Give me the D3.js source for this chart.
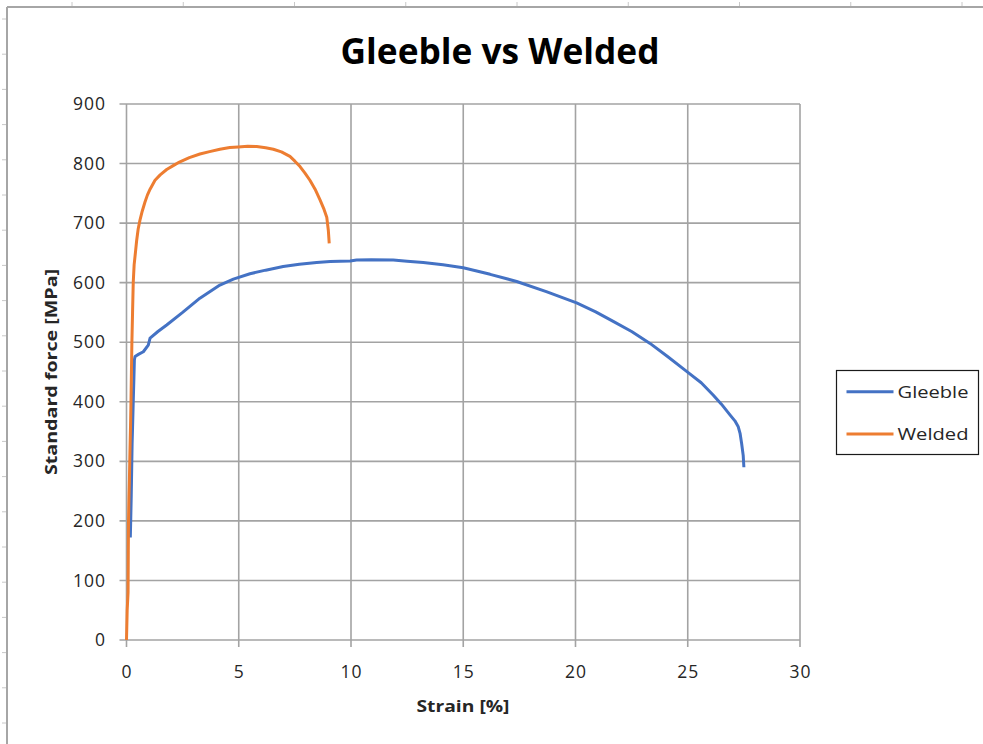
<!DOCTYPE html>
<html>
<head>
<meta charset="utf-8">
<script src="https://cdn.jsdelivr.net/npm/d3@7"></script>
<style>
  html, body { margin: 0; padding: 0; background: #fff; }
  svg { display: block; font-family: "Open Sans", "Noto Sans", sans-serif; }
</style>
</head>
<body>
<svg id="chart" width="983" height="744"></svg>
<script>
// Tensile test curves: strain [%] vs standard force [MPa]
const gleebleStrain = [0.17, 0.19, 0.21, 0.23, 0.25, 0.27, 0.30, 0.33, 0.35, 0.38, 0.55, 0.75, 0.97, 1.05, 1.40, 1.79, 2.50, 3.27, 4.16, 4.76, 5.50, 6.20, 6.98, 7.70, 8.47, 9.07, 9.96, 10.25, 10.90, 11.88, 12.50, 13.22, 14.10, 15.00, 16.20, 17.38, 18.70, 20.05, 20.90, 21.68, 22.50, 23.32, 24.10, 24.95, 25.60, 26.14, 26.50, 26.88, 27.10, 27.25, 27.33, 27.40, 27.47, 27.50];
const gleebleStress = [172, 205, 240, 285, 330, 357, 400, 440, 470, 476, 480, 484, 495, 507, 518, 529, 550, 574, 596, 606, 615, 621, 627, 631, 634, 635.5, 636.5, 638, 638.5, 638, 636, 634, 630, 625, 614, 602, 585, 566, 551, 535, 518, 498, 476, 451, 432, 411, 396, 378, 368, 358, 347, 330, 310, 290];

const weldedStrain = [0.00, 0.03, 0.07, 0.08, 0.09, 0.11, 0.13, 0.15, 0.18, 0.20, 0.22, 0.24, 0.27, 0.30, 0.34, 0.41, 0.45, 0.52, 0.60, 0.70, 0.82, 0.93, 1.05, 1.27, 1.50, 1.79, 2.10, 2.38, 2.80, 3.27, 3.70, 4.16, 4.60, 4.98, 5.40, 5.80, 6.20, 6.54, 6.90, 7.28, 7.50, 7.73, 7.95, 8.17, 8.40, 8.62, 8.80, 8.92, 8.99, 9.03];
const weldedStress = [0, 50, 80, 150, 200, 240, 270, 310, 360, 400, 450, 500, 550, 600, 630, 655, 670, 690, 705, 720, 735, 747, 757, 772, 781, 790, 797, 803, 810, 816, 820, 824, 827, 828, 829, 828.5, 826.5, 824, 819.5, 812, 804, 795, 784, 772, 757, 739, 723, 710, 688, 666];

const seriesNames = ["Gleeble", "Welded"];
const seriesColors = ["#4472C4", "#ED7D31"];

const xTicks = [0, 5, 10, 15, 20, 25, 30];
const yTicks = [0, 100, 200, 300, 400, 500, 600, 700, 800, 900];

const titleText = "Gleeble vs Welded";
const xTitle = "Strain [%]";
const yTitle = "Standard force [MPa]";

const svg = d3.select("#chart");
const W = 983, H = 744;
const plot = { left: 126.5, right: 800, top: 104, bottom: 640 };
const gridColor = "#a3a3a3";

const x = d3.scaleLinear().domain([0, 30]).range([plot.left, plot.right]);
const y = d3.scaleLinear().domain([0, 900]).range([plot.bottom, plot.top]);

// Worksheet frame around the chart object
const frame = svg.append("g");
frame.append("line").attr("x1", 7).attr("x2", W).attr("y1", 7).attr("y2", 7)
  .attr("stroke", "#a6a6a6").attr("stroke-width", 2);
frame.append("line").attr("x1", 7).attr("x2", 7).attr("y1", 7).attr("y2", H)
  .attr("stroke", "#a6a6a6").attr("stroke-width", 2);
frame.selectAll(".colmark").data(d3.range(0, 9)).enter().append("line")
  .attr("x1", d => 72 + d * 111.25).attr("x2", d => 72 + d * 111.25)
  .attr("y1", 2).attr("y2", 6).attr("stroke", "#c8c8c8").attr("stroke-width", 1);
frame.selectAll(".rowmark").data(d3.range(0, 21)).enter().append("line")
  .attr("y1", d => 19 + d * 35.2).attr("y2", d => 19 + d * 35.2)
  .attr("x1", 2).attr("x2", 6).attr("stroke", "#c8c8c8").attr("stroke-width", 1);

// Gridlines
const grid = svg.append("g");
grid.selectAll(".hg").data(yTicks).enter().append("line")
  .attr("x1", plot.left - 7).attr("x2", plot.right)
  .attr("y1", d => y(d)).attr("y2", d => y(d))
  .attr("stroke", gridColor).attr("stroke-width", 1.6);
grid.selectAll(".vg").data(xTicks).enter().append("line")
  .attr("y1", plot.top).attr("y2", plot.bottom + 7)
  .attr("x1", d => x(d)).attr("x2", d => x(d))
  .attr("stroke", gridColor).attr("stroke-width", 1.6);

// Tick labels
svg.append("g").selectAll("text").data(yTicks).enter().append("text")
  .attr("x", 106).attr("y", d => y(d)).attr("dy", "0.35em")
  .attr("text-anchor", "end").attr("font-size", 17.5).attr("letter-spacing", 1)
  .attr("fill", "#262626").text(d => d);
svg.append("g").selectAll("text").data(xTicks).enter().append("text")
  .attr("x", d => x(d) + 0.5).attr("y", 678)
  .attr("text-anchor", "middle").attr("font-size", 17.5).attr("letter-spacing", 1)
  .attr("fill", "#262626").text(d => d);

// Axis titles
svg.append("text").attr("x", 463).attr("y", 712).attr("text-anchor", "middle")
  .attr("font-size", 16).attr("font-weight", "bold").attr("fill", "#262626")
  .attr("textLength", 93).attr("lengthAdjust", "spacingAndGlyphs").text(xTitle);
svg.append("text").attr("transform", "translate(56.5,372) rotate(-90)")
  .attr("text-anchor", "middle").attr("font-size", 16).attr("font-weight", "bold")
  .attr("fill", "#262626").attr("textLength", 206).attr("lengthAdjust", "spacingAndGlyphs")
  .text(yTitle);

// Title
svg.append("text").attr("x", 500).attr("y", 63.5).attr("text-anchor", "middle")
  .attr("font-size", 36).attr("font-weight", "bold").attr("fill", "#000")
  .attr("textLength", 319).attr("lengthAdjust", "spacingAndGlyphs").text(titleText);

// Curves
const line = d3.line().x(d => x(d[0])).y(d => y(d[1]));
const series = [
  d3.zip(gleebleStrain, gleebleStress),
  d3.zip(weldedStrain, weldedStress)
];
svg.append("g").selectAll("path").data(series).enter().append("path")
  .attr("d", line).attr("fill", "none")
  .attr("stroke", (d, i) => seriesColors[i]).attr("stroke-width", 3)
  .attr("stroke-linejoin", "round").attr("stroke-linecap", "butt");

// Legend
const lg = svg.append("g");
lg.append("rect").attr("x", 836.5).attr("y", 370.5).attr("width", 142).attr("height", 84)
  .attr("fill", "#fff").attr("stroke", "#1a1a1a").attr("stroke-width", 1.2);
const items = lg.selectAll(".item").data(seriesNames).enter().append("g")
  .attr("transform", (d, i) => `translate(0, ${391.7 + i * 42.3})`);
items.append("line").attr("x1", 846.5).attr("x2", 893.5).attr("y1", 0).attr("y2", 0)
  .attr("stroke", (d, i) => seriesColors[i]).attr("stroke-width", 3);
items.append("text").attr("x", 897.5).attr("y", 0).attr("dy", "0.35em")
  .attr("font-size", 17).attr("fill", "#262626")
  .attr("textLength", 71).attr("lengthAdjust", "spacingAndGlyphs").text(d => d);
</script>
</body>
</html>
